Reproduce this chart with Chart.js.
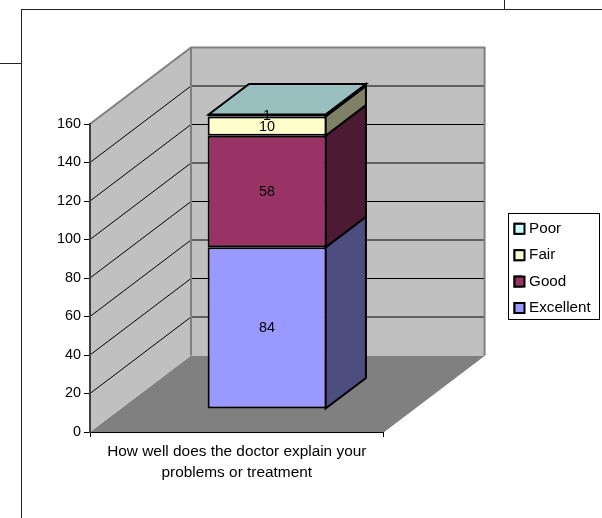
<!DOCTYPE html>
<html><head><meta charset="utf-8">
<script src="https://cdn.jsdelivr.net/npm/chart.js@4"></script>
<style>
html,body{margin:0;padding:0;background:#fff;overflow:hidden}
#wrap{position:relative;width:602px;height:518px}
canvas{position:absolute;left:0;top:0}
.l{position:absolute;background:#222}
</style></head><body>
<div id="wrap">
<canvas id="c" width="602" height="518"></canvas>
<div class="l" style="left:21px;top:9px;width:581px;height:1px"></div>
<div class="l" style="left:21px;top:9px;width:1px;height:509px"></div>
<div class="l" style="left:0;top:63px;width:21px;height:1px"></div>
<div class="l" style="left:504px;top:0;width:1px;height:9px"></div>
</div>
<script>
const categories = [["How well does the doctor explain your", "problems or treatment"]];
const seriesNames = ["Excellent", "Good", "Fair", "Poor"];
const excellent = [84];
const good = [58];
const fair = [10];
const poor = [1];
const seriesValues = [excellent, good, fair, poor];
const frontColors = ["#9999FF", "#993366", "#FFFFCC", "#CCFFFF"];
const sideColors = ["#4D4D80", "#4D1A33", "#808066", "#668080"];
const topColor = "#99BFBF";
const FONT = "'Liberation Sans', Arial, sans-serif";
const FS = 14.4;
const LEGEND_FS = 15.2;
const LEGEND_PAD = 11.2;
const depth = {x: 101, y: -76.5};
const barOffset = 0.3, barDepth = 0.4;

function poly(ctx, pts, fill, stroke, lw) {
  ctx.beginPath();
  pts.forEach((p, i) => i ? ctx.lineTo(p[0], p[1]) : ctx.moveTo(p[0], p[1]));
  ctx.closePath();
  if (fill) { ctx.fillStyle = fill; ctx.fill(); }
  if (stroke) { ctx.strokeStyle = stroke; ctx.lineWidth = lw; ctx.lineJoin = 'miter'; ctx.stroke(); }
}

const walls3d = {
  id: 'walls3d',
  afterLayout(chart) {
    const lg = chart.legend, w = lg.right - lg.left, h = lg.bottom - lg.top;
    lg.left = 514.5 - LEGEND_PAD; lg.right = lg.left + w;
    lg.top = 210; lg.bottom = lg.top + h;
  },
  beforeDraw(chart) {
    const {ctx, chartArea: a, scales: {y}} = chart;
    const dx = depth.x, dy = depth.y;
    ctx.save();
    poly(ctx, [[a.left, a.bottom], [a.right, a.bottom], [a.right + dx, a.bottom + dy], [a.left + dx, a.bottom + dy]], "#808080");
    poly(ctx, [[a.left, a.top], [a.left + dx, a.top + dy], [a.left + dx, a.bottom + dy], [a.left, a.bottom]], "#C0C0C0");
    poly(ctx, [[a.left + dx, a.top + dy], [a.right + dx, a.top + dy], [a.right + dx, a.bottom + dy], [a.left + dx, a.bottom + dy]], "#C0C0C0");
    ctx.strokeStyle = "#000"; ctx.lineWidth = 1;
    y.ticks.forEach(t => {
      if (t.value === y.min || t.value === y.max) return;
      const py = y.getPixelForValue(t.value);
      ctx.beginPath();
      ctx.moveTo(a.left, py);
      ctx.lineTo(a.left + dx, py + dy);
      ctx.lineTo(a.right + dx, py + dy);
      ctx.stroke();
    });
    ctx.strokeStyle = "#808080"; ctx.lineWidth = 2;
    ctx.beginPath();
    ctx.moveTo(a.left, a.top);
    ctx.lineTo(a.left + dx, a.top + dy);
    ctx.lineTo(a.right + dx, a.top + dy);
    ctx.lineTo(a.right + dx, a.bottom + dy);
    ctx.moveTo(a.left + dx, a.top + dy);
    ctx.lineTo(a.left + dx, a.bottom + dy);
    ctx.stroke();
    ctx.lineWidth = 1;
    ctx.beginPath();
    ctx.moveTo(a.right + dx, a.bottom + dy);
    ctx.lineTo(a.right, a.bottom);
    ctx.stroke();
    ctx.restore();
  },
  beforeDatasetsDraw(chart) {
    const ctx = chart.ctx;
    ctx.save();
    ctx.translate(depth.x * barOffset, depth.y * barOffset);
    const ddx = depth.x * barDepth, ddy = depth.y * barDepth;
    chart.data.datasets.forEach((ds, i) => {
      chart.getDatasetMeta(i).data.forEach(b => {
        const r = b.x + b.width / 2 - 1;
        const yt = b.y, yb = b.base;
        poly(ctx, [[r, yt], [r + ddx, yt + ddy], [r + ddx, yb + ddy], [r, yb]], sideColors[i], "#000", 2);
      });
    });
    const last = chart.getDatasetMeta(chart.data.datasets.length - 1).data[0];
    const l = last.x - last.width / 2 + 1, r = last.x + last.width / 2 - 1, t = last.y;
    poly(ctx, [[l, t], [l + ddx, t + ddy], [r + ddx, t + ddy], [r, t]], topColor, "#000", 2);
  },
  afterDatasetsDraw(chart) {
    const ctx = chart.ctx;
    ctx.font = FS + "px " + FONT;
    ctx.fillStyle = "#000";
    ctx.textAlign = "center";
    ctx.textBaseline = "middle";
    chart.data.datasets.forEach((ds, i) => {
      chart.getDatasetMeta(i).data.forEach((b, j) => {
        ctx.fillText(String(ds.data[j]), b.x, (b.y + b.base) / 2 + 0.5);
      });
    });
    ctx.restore();
  },
  afterDraw(chart) {
    const lg = chart.legend, ctx = chart.ctx;
    ctx.save();
    ctx.strokeStyle = "#000"; ctx.lineWidth = 1;
    ctx.strokeRect(508.5, 213.5, 91, 106);
    // full-width swatches over the legend's narrower key boxes
    const step = LEGEND_FS + LEGEND_PAD;
    lg.legendItems.forEach((it, i) => {
      const yy = lg.top + LEGEND_PAD + i * step + (LEGEND_FS - 10) / 2;
      ctx.fillStyle = it.fillStyle;
      ctx.strokeStyle = it.strokeStyle;
      ctx.lineWidth = it.lineWidth;
      ctx.fillRect(lg.left + LEGEND_PAD, yy, 10, 10);
      ctx.strokeRect(lg.left + LEGEND_PAD, yy, 10, 10);
    });
    ctx.restore();
  }
};

new Chart(document.getElementById('c'), {
  type: 'bar',
  data: {
    labels: categories,
    datasets: seriesNames.map((n, i) => ({
      label: n,
      data: seriesValues[i],
      backgroundColor: frontColors[i],
      borderColor: "#000",
      borderWidth: 2,
      borderSkipped: false,
      inflateAmount: 0,
      barPercentage: 0.405,
      categoryPercentage: 1
    }))
  },
  options: {
    responsive: false,
    animation: false,
    layout: {padding: {left: 45, top: 124, right: 121, bottom: 0}},
    plugins: {
      title: {display: false},
      tooltip: {enabled: false},
      legend: {
        display: true,
        position: 'right',
        align: 'start',
        reverse: true,
        labels: {
          color: "#000",
          font: {family: FONT, size: LEGEND_FS},
          boxWidth: 7,
          boxHeight: 10,
          padding: LEGEND_PAD
        }
      }
    },
    scales: {
      x: {
        stacked: true,
        afterFit: s => { s.height = 86; },
        border: {color: "#000", width: 1},
        grid: {display: true, drawOnChartArea: false, color: "#000", tickColor: "#000", tickLength: 5},
        ticks: {
          color: "#000", maxRotation: 0, minRotation: 0, padding: 4,
          font: {family: FONT, size: 15.4, lineHeight: 1.365}
        }
      },
      y: {
        stacked: true,
        min: 0, max: 160,
        afterFit: s => { s.width = 45; },
        border: {color: "#404040", width: 2},
        grid: {display: true, drawOnChartArea: false, color: "#000", tickColor: "#000", tickLength: 6},
        ticks: {
          color: "#000", stepSize: 20, padding: 3,
          font: {family: FONT, size: FS}
        }
      }
    }
  },
  plugins: [walls3d]
});
</script>
</body></html>
